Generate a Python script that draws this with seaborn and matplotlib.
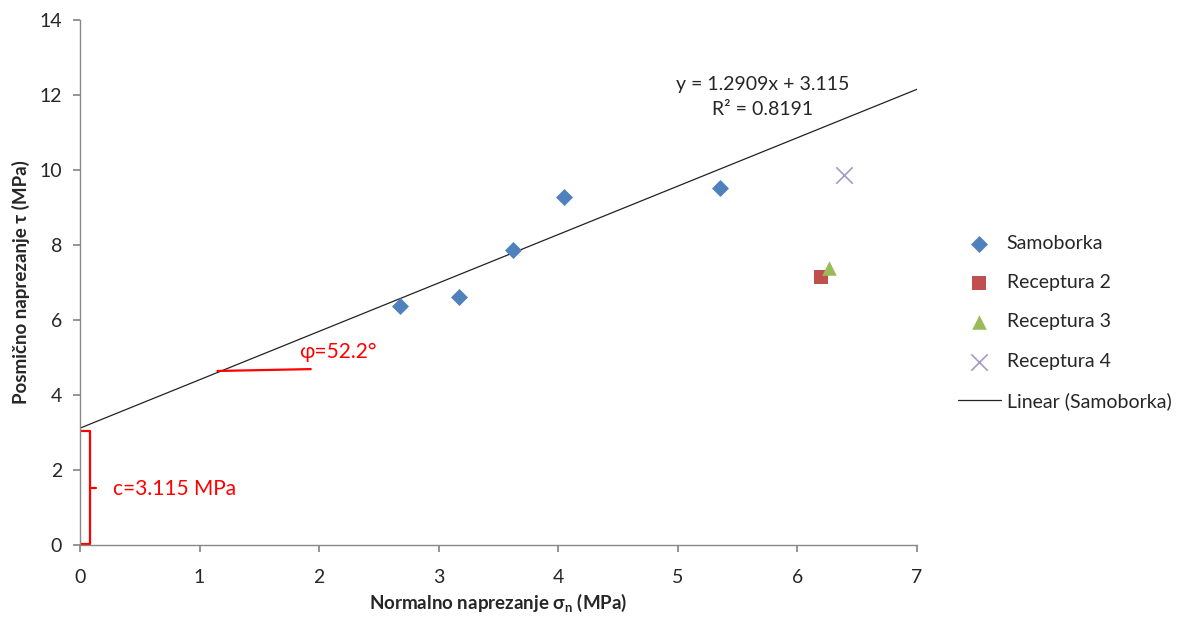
import matplotlib
matplotlib.use("Agg")
import matplotlib.pyplot as plt
import seaborn as sns
import pandas as pd
import numpy as np

sns.set_theme(style="white")
plt.rcParams['font.family'] = ['Lato', 'DejaVu Sans']
plt.rcParams['mathtext.default'] = 'regular'

# data
samoborka_x = [2.68, 3.17, 3.62, 4.05, 5.35]
samoborka_y = [6.37, 6.61, 7.87, 9.28, 9.52]
rec2_x = [6.20]
rec2_y = [7.15]
rec3_x = [6.26]
rec3_y = [7.39]
rec4_x = [6.39]
rec4_y = [9.87]
series = ["Samoborka", "Receptura 2", "Receptura 3", "Receptura 4"]
colors = ["#4F81BD", "#C0504D", "#9BBB59", "#8064A2"]
fit_slope = 1.2909
fit_icpt = 3.115
fit_r2 = 0.8191

df = pd.DataFrame({
    "x": samoborka_x + rec2_x + rec3_x + rec4_x,
    "y": samoborka_y + rec2_y + rec3_y + rec4_y,
    "serija": [series[0]] * 5 + [series[1]] + [series[2]] + [series[3]],
})

fig = plt.figure(figsize=(11.83, 6.17), dpi=100)
ax = fig.add_axes([0.0676, 0.1167, 0.7076, 0.851])

for name, mk, c, sz in zip(series, ["D", "s", "^", "x"], colors, [75, 110, 110, 140]):
    d = df[df.serija == name]
    if mk == "x":
        sns.scatterplot(x=d.x, y=d.y, marker=mk, s=sz, color="#A898C6",
                        linewidth=1.2, label=name, zorder=3, ax=ax)
    else:
        sns.scatterplot(x=d.x, y=d.y, marker=mk, s=sz, color=c, linewidth=0,
                        label=name, zorder=3, ax=ax)

fx = np.array([0, 7.0])
sns.lineplot(x=fx, y=fit_slope * fx + fit_icpt, color="#222222", linewidth=0.9,
             ax=ax, label="Linear (Samoborka)", zorder=2)

ax.text(5.71, 12.27, f"y = {fit_slope}x + {fit_icpt}", ha="center",
        va="center", fontsize=14)
ax.text(5.71, 11.6, f"R² = {fit_r2}", ha="center", va="center", fontsize=14)

# red annotations
ax.plot([0.01, 0.08, 0.08, 0.01], [0.02, 0.02, 3.04, 3.04], color="red", lw=1.6,
        clip_on=False)
ax.plot([0.08, 0.13], [1.52, 1.52], color="red", lw=1.6)
ax.text(0.28, 1.5, "c=3.115 MPa", color="red", fontsize=15, va="center")
ax.plot([1.15, 1.93], [4.64, 4.69], color="red", lw=1.6)
ax.text(1.83, 5.15, "φ=52.2°", color="red", fontsize=15, va="center")

ax.set_xlim(0, 7)
ax.set_ylim(0, 14)
ax.set_xticks(range(0, 8))
ax.set_yticks(range(0, 15, 2))
ax.tick_params(axis="both", labelsize=14, length=5, color="#888888",
               bottom=True, left=True, direction="out")
ax.tick_params(axis="x", pad=12)
ax.tick_params(axis="y", pad=8)
for s in ["top", "right"]:
    ax.spines[s].set_visible(False)
for s in ["left", "bottom"]:
    ax.spines[s].set_color("#888888")
    ax.spines[s].set_linewidth(1)

ax.set_xlabel("Normalno naprezanje σ$_{n}$ (MPa)", fontsize=13.5, fontweight="bold")
ax.set_ylabel("Posmično naprezanje τ (MPa)", fontsize=13.5, fontweight="bold")
ax.xaxis.set_label_coords(0.5, -0.09)
ax.yaxis.set_label_coords(-0.06, 0.5)

ax.legend(loc="upper left", bbox_to_anchor=(0.795, 0.648),
          bbox_transform=fig.transFigure, frameon=False, fontsize=14,
          labelspacing=1.15, handlelength=2.2, handletextpad=0.3,
          scatterpoints=1)

fig.savefig("out.png", dpi=100)
